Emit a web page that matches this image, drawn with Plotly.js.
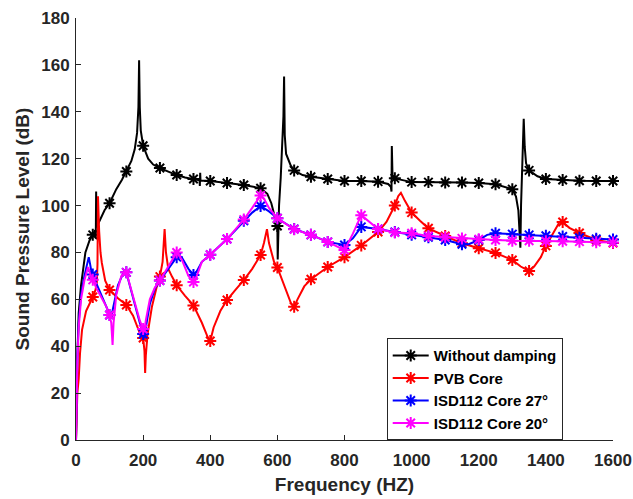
<!DOCTYPE html>
<html><head><meta charset="utf-8">
<script src="https://cdn.plot.ly/plotly-3.0.1.min.js"></script>
<style>html,body{margin:0;padding:0;background:#fff}#chart{width:633px;height:499px}</style>
</head><body><div id="chart"></div>
<script>
// Frequency axis ticks
const xTicks = [0, 200, 400, 600, 800, 1000, 1200, 1400, 1600];
const yTicks = [0, 20, 40, 60, 80, 100, 120, 140, 160, 180];

// Without damping
const blackFreq = [0,2,4,8,15,28,40,50,57,59,60,61,62,71,85,100,120,137,150,165,175,182,186,188,190,193,200,215,230,250,275,300,325,350,368,369,370,371,400,450,500,550,570,582,592,596,600,601,605,610,615,618,620,622,626,632,640,650,675,700,750,800,850,900,930,938,940,941,943,950,1000,1050,1100,1150,1200,1250,1300,1311,1318,1322,1324,1326,1330,1334,1337,1341,1350,1375,1400,1450,1500,1550,1600];
const blackSPL  = [0,20,35,54,66,80,85,87.5,89.5,86,106,91,91,94,98,101,107,111,114.5,119,124,131,142,162,142,132,125.5,120,117.5,116,114.5,113,112,111.3,110.8,108.4,114,110.7,110.5,109.6,108.8,107.4,105,101,95.3,95,91.3,77,100,112,125,138,155,130,122,119.5,117,115,113,112.3,111.3,110.5,110.5,110.2,109.2,108,106,125.4,113,111.6,110,110,109.8,109.8,109.6,109.1,107,103.8,98,90,82,100,125,137,125,118,115,112.5,111.3,110.9,110.6,110.5,110.5];

// PVB Core
const redFreq = [0,2,4,8,12,18,30,50,58,62,64,65.5,67,69,73,77,87,100,125,150,170,190,200,204,206,208,213,226,240,250,258,264,268,275,286,300,325,350,375,392,400,410,430,450,475,500,525,550,560,569,575,590,600,620,640,650,660,680,700,750,800,850,900,925,950,960,968,980,1000,1025,1050,1100,1150,1200,1250,1300,1325,1350,1365,1385,1400,1425,1440,1450,1470,1500,1550,1600];
const redSPL  = [0,12,20,26,37,47,55,61,64,67,75,104,95,89,80,75.5,68,64,60.5,57.6,53,45.6,43.5,38,28.6,36,45,56.7,65,69.7,76,90,80,73,69.7,66,61.5,57.4,50,44,42.2,48,55,59.7,64,68.2,73,78.9,84,89.9,84,76,73.6,66,58.5,56.8,60,65.5,68.6,73.8,78,83,88.7,93,100,104,105.4,102,97,93.5,90.3,87,83.9,81.8,79.8,76.8,74,72.1,74,78,82.8,89,92.8,93,90.5,88.3,85.3,84];

// ISD112 Core 27°
const blueFreq = [0,2,4,8,15,25,33,38,42,47,50,52,60,75,90,100,105,110,125,140,147,150,155,175,190,200,204,208,220,235,250,275,300,315,335,350,360,375,400,450,500,525,550,575,600,650,700,750,800,825,850,900,950,1000,1050,1100,1150,1170,1200,1225,1250,1300,1350,1400,1450,1500,1550,1600];
const blueSPL  = [0,20,35,50,62,70,75,78,75,71,70.6,70.4,67,62,57,53.3,52,56,66,71,71.8,71.5,69,58,50,45.2,43.5,48,58,64.5,68,73,78,78,73,70.4,72,76,79,85.7,93.5,97,99.8,97.5,94.6,90,87.5,84.5,83.2,86,90.9,90,88.7,87.5,86.5,85.3,83.5,83.5,85.3,87.5,88.2,87.8,87.5,87.1,86.8,86.3,85.8,85.5];

// ISD112 Core 20°
const magFreq = [0,2,4,8,15,25,32,36,42,50,60,75,90,100,105,109,112,120,135,147,150,155,175,190,200,203,208,220,235,250,275,300,315,335,350,360,375,400,450,500,525,550,560,575,600,650,700,750,800,825,850,875,900,950,1000,1050,1100,1150,1200,1250,1300,1350,1400,1450,1500,1550,1600];
const magSPL  = [0,20,33,48,60,68,72.5,73.8,71,68.3,65,61,57,53.3,50,40.5,50,62,70,71.8,71.5,69,59,51,47.3,46,51,60,65,68,74,80,77,70,67.4,70,76,79,85.7,94,99,104.3,103,99,94.6,89.9,87.5,84.5,81,88,95.9,93,90,88.5,88.2,87,86.5,86,85.6,85.3,85,85,84.8,84.8,84.6,84.4,84.2];

const seriesNames = ['Without damping', 'PVB Core', 'ISD112 Core 27°', 'ISD112 Core 20°'];
const seriesColors = ['#000000', '#ff0000', '#0000ff', '#ff00ff'];
const seriesFreq = [blackFreq, redFreq, blueFreq, magFreq];
const seriesSPL = [blackSPL, redSPL, blueSPL, magSPL];

const traces = [];
seriesNames.forEach((name, k) => {
  const f = seriesFreq[k], v = seriesSPL[k], c = seriesColors[k];
  const mk = {symbol: 'asterisk-open', size: 10, color: c, line: {color: c, width: 2}};
  traces.push({x: f, y: v, mode: 'lines', line: {color: c, width: 2}, showlegend: false, hoverinfo: 'skip'});
  const mf = [], mv = [];
  f.forEach((fr, i) => { if (fr > 0 && fr % 50 === 0) { mf.push(fr); mv.push(v[i]); } });
  traces.push({x: mf, y: mv, mode: 'markers', marker: mk, showlegend: false, cliponaxis: false, hoverinfo: 'skip'});
  traces.push({x: [null], y: [null], mode: 'lines+markers', name: name, line: {color: c, width: 2}, marker: mk});
});

const axisCommon = {
  ticks: 'inside', ticklen: 5, tickwidth: 1, tickcolor: '#262626',
  showline: true, linecolor: '#262626', linewidth: 1,
  showgrid: false, zeroline: false, mirror: false,
  tickfont: {size: 17, color: '#262626', weight: 'bold', family: 'Liberation Sans, Arial, sans-serif'}
};

const layout = {
  width: 633, height: 499,
  margin: {l: 76, r: 20, t: 18, b: 59},
  paper_bgcolor: '#ffffff', plot_bgcolor: '#ffffff',
  font: {family: 'Liberation Sans, Arial, sans-serif', color: '#262626', weight: 'bold'},
  xaxis: Object.assign({}, axisCommon, {
    range: [0, 1600], tickvals: xTicks, ticktext: xTicks.map(String),
    ticklabelstandoff: 5,
    title: {text: 'Frequency (HZ)', font: {size: 19, weight: 'bold', color: '#262626'}, standoff: 8}
  }),
  yaxis: Object.assign({}, axisCommon, {
    range: [0, 180], tickvals: yTicks, ticktext: yTicks.map(String),
    ticklabelstandoff: 2,
    title: {text: 'Sound Pressure Level (dB)', font: {size: 19, weight: 'bold', color: '#262626'}, standoff: 6}
  }),
  legend: {
    x: 0.5786, y: 0.241, xanchor: 'left', yanchor: 'top',
    bgcolor: '#ffffff', bordercolor: '#262626', borderwidth: 1,
    itemwidth: 36,
    font: {size: 15, color: '#000000', weight: 'bold', family: 'Liberation Sans, Arial, sans-serif'},
    tracegroupgap: 0
  },
  showlegend: true
};

Plotly.newPlot('chart', traces, layout, {displayModeBar: false, staticPlot: true});
</script>
</body></html>
